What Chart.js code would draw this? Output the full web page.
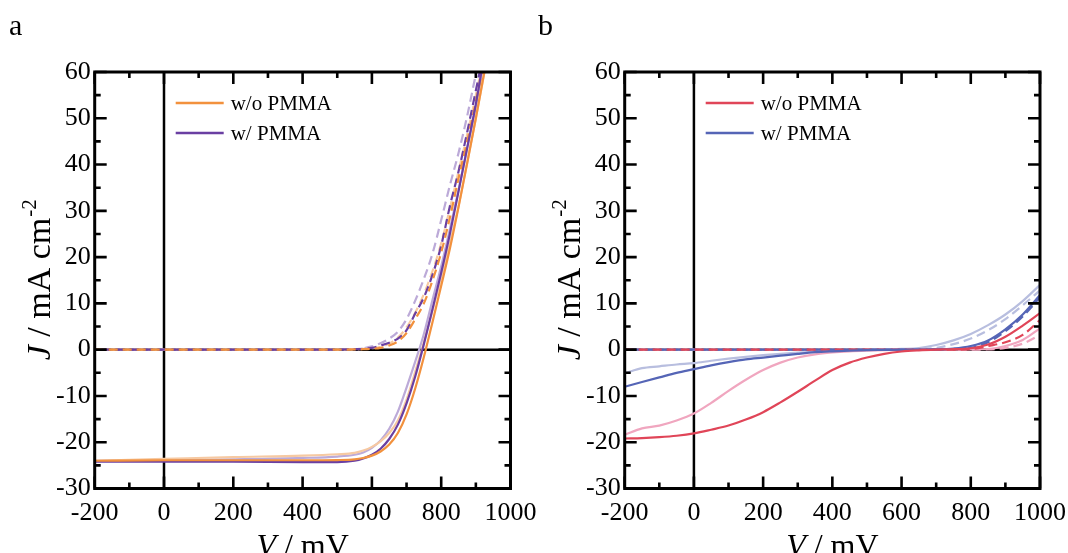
<!DOCTYPE html>
<html>
<head>
<meta charset="utf-8">
<script src="https://cdn.jsdelivr.net/npm/chart.js@4.4.0/dist/chart.umd.min.js"></script>
<style>
  html, body { margin: 0; padding: 0; background: #fff; }
  #wrap { position: relative; width: 1068px; height: 553px; overflow: hidden; }
  canvas { position: absolute; top: 0; }
</style>
</head>
<body>
<div id="wrap">
  <canvas id="chartA" width="564" height="553" style="left:0"></canvas>
  <canvas id="chartB" width="534" height="553" style="left:534px"></canvas>
</div>
<script>
// axis ticks
var xTicks = [-200, 0, 200, 400, 600, 800, 1000];
var yTicks = [-30, -20, -10, 0, 10, 20, 30, 40, 50, 60];
var legendLabels = ['w/o PMMA', 'w/ PMMA'];

// panel a : solid = illuminated, dashed = dark
var voltsA = [-200, 0, 200, 400, 500, 550, 575, 600, 625, 650, 675, 700, 725, 750, 775, 800, 825, 850, 875, 900, 925, 950];
var solidOrange     = [-24.0, -23.9, -23.9, -23.9, -23.85, -23.7, -23.4, -22.9, -22.0, -20.5, -18.0, -14.0, -8.4, -1.6, 6.0, 13.8, 21.8, 30.8, 40.3, 50.0, 60.2, 71.0];
var solidOrangePale = [-24.0, -23.6, -23.2, -22.9, -22.6, -22.3, -21.8, -21.0, -19.8, -18.0, -15.3, -10.8, -4.8, 1.6, 8.5, 15.5, 23.0, 31.0, 40.5, 50.0, 60.0, 70.0];
var solidPurple     = [-24.2, -24.2, -24.2, -24.3, -24.3, -24.0, -23.5, -22.7, -21.4, -19.3, -16.2, -11.6, -5.8, 1.2, 8.8, 16.6, 25.0, 34.2, 43.6, 53.1, 64.0, 75.0];
var solidPurplePale = [-24.0, -23.9, -23.7, -23.4, -23.1, -22.7, -22.2, -21.2, -19.6, -17.1, -13.4, -8.2, -2.6, 3.4, 10.8, 18.0, 26.0, 34.5, 43.5, 52.5, 63.0, 73.0];
var dashOrange      = [0, 0, 0, 0, 0.02, 0.05, 0.1, 0.2, 0.4, 0.9, 1.8, 3.6, 6.6, 10.0, 15.0, 21.0, 28.5, 37.0, 45.0, 53.5, 62.5, 72.0];
var dashOrangePale  = [0, 0, 0, 0, 0.02, 0.05, 0.15, 0.3, 0.6, 1.3, 2.6, 4.8, 8.0, 12.0, 17.0, 23.0, 30.5, 38.5, 46.5, 55.0, 64.0, 73.5];
var dashPurple      = [0, 0, 0, 0, 0.03, 0.1, 0.2, 0.4, 0.9, 1.5, 2.4, 4.2, 7.8, 11.3, 16.2, 22.5, 31.0, 38.5, 47.0, 56.0, 65.0, 74.0];
var dashPurplePale  = [0, 0, 0, 0, 0.03, 0.1, 0.3, 0.7, 1.4, 2.4, 3.9, 6.6, 10.6, 15.3, 20.8, 28.0, 35.5, 42.5, 50.5, 59.5, 68.0, 77.0];

// panel b
var voltsB = [-200, -150, -100, -50, 0, 50, 100, 150, 200, 250, 300, 350, 400, 450, 500, 550, 600, 650, 700, 750, 800, 850, 900, 950, 1000];
var solidRed      = [-19.2, -19.1, -18.9, -18.6, -18.1, -17.3, -16.4, -15.1, -13.5, -11.4, -9.1, -6.7, -4.4, -2.8, -1.7, -0.9, -0.4, -0.15, 0, 0.1, 0.3, 1.1, 2.8, 5.2, 7.9];
var solidRedPale  = [-18.4, -17.0, -16.4, -15.3, -13.8, -11.5, -8.9, -6.5, -4.4, -2.8, -1.7, -1.0, -0.6, -0.35, -0.2, -0.1, -0.05, 0, 0, 0, 0.05, 0.15, 0.8, 2.1, 4.6];
var solidBlue     = [-8.0, -7.0, -6.0, -5.0, -4.2, -3.4, -2.7, -2.1, -1.7, -1.3, -0.9, -0.55, -0.35, -0.2, -0.1, -0.05, 0, 0, 0.05, 0.25, 0.8, 2.0, 4.4, 7.6, 11.8];
var solidBluePale = [-5.1, -4.0, -3.6, -3.2, -2.9, -2.4, -1.95, -1.55, -1.2, -0.9, -0.65, -0.45, -0.3, -0.15, -0.05, 0.05, 0.15, 0.35, 1.0, 2.0, 3.4, 5.3, 7.6, 10.5, 14.0];
var dashRed       = [0, 0, 0, 0, 0, 0, 0, 0, 0, 0, 0, 0, 0, 0, 0, 0, 0, 0, 0, 0.02, 0.1, 0.8, 1.6, 3.2, 6.4];
var dashRedPale   = [0, 0, 0, 0, 0, 0, 0, 0, 0, 0, 0, 0, 0, 0, 0, 0, 0, 0, 0, 0, 0, 0.05, 0.4, 1.3, 3.2];
var dashBlue      = [0, 0, 0, 0, 0, 0, 0, 0, 0, 0, 0, 0, 0, 0, 0, 0, 0, 0, 0.05, 0.15, 0.4, 1.6, 4.0, 7.2, 11.3];
var dashBluePale  = [0, 0, 0, 0, 0, 0, 0, 0, 0, 0, 0, 0, 0, 0, 0, 0, 0, 0.1, 0.4, 1.2, 2.4, 4.2, 6.6, 9.6, 12.8];

var serif = "'Liberation Serif', 'Times New Roman', serif";

function pts(xs, ys) {
  return xs.map(function (v, i) { return {x: v, y: ys[i]}; });
}

// dashOff < 0 means solid line
function series(xs, ys, color, dashOff) {
  return {
    data: pts(xs, ys),
    borderColor: color,
    borderWidth: 2.2,
    borderDash: dashOff >= 0 ? [9, 5] : [],
    borderDashOffset: dashOff >= 0 ? dashOff : 0,
    pointRadius: 0,
    fill: false,
    cubicInterpolationMode: 'monotone'
  };
}

var framePlugin = {
  id: 'frame',
  beforeDatasetsDraw: function (chart) {
    var a = chart.chartArea, ctx = chart.ctx;
    var x0 = chart.scales.x.getPixelForValue(0);
    var y0 = chart.scales.y.getPixelForValue(0);
    ctx.save();
    ctx.strokeStyle = '#000';
    ctx.lineWidth = 2.5;
    ctx.beginPath();
    ctx.moveTo(x0, a.top); ctx.lineTo(x0, a.bottom);
    ctx.moveTo(a.left, y0); ctx.lineTo(a.right, y0);
    ctx.stroke();
    ctx.restore();
  },
  afterDatasetsDraw: function (chart) {
    var a = chart.chartArea, ctx = chart.ctx;
    var sx = chart.scales.x, sy = chart.scales.y;
    var v, p, len;
    ctx.save();
    ctx.strokeStyle = '#000';
    ctx.lineWidth = 2.6;
    ctx.beginPath();
    for (v = -200; v <= 1000; v += 100) {
      p = sx.getPixelForValue(v);
      len = (v % 200 === 0) ? 12 : 6;
      ctx.moveTo(p, a.bottom); ctx.lineTo(p, a.bottom - len);
      ctx.moveTo(p, a.top); ctx.lineTo(p, a.top + len);
    }
    for (v = -30; v <= 60; v += 5) {
      p = sy.getPixelForValue(v);
      len = (v % 10 === 0) ? 12 : 6;
      ctx.moveTo(a.left, p); ctx.lineTo(a.left + len, p);
      ctx.moveTo(a.right, p); ctx.lineTo(a.right - len, p);
    }
    ctx.stroke();
    ctx.lineWidth = 3;
    ctx.strokeRect(a.left, a.top, a.right - a.left, a.bottom - a.top);
    ctx.restore();
  },
  afterDraw: function (chart, args, opts) {
    var a = chart.chartArea, ctx = chart.ctx;
    ctx.save();
    ctx.fillStyle = '#000';
    // panel letter
    ctx.font = '30px ' + serif;
    ctx.textBaseline = 'alphabetic';
    ctx.textAlign = 'left';
    ctx.fillText(opts.letter, opts.letterX, 35);

    // legend
    ctx.font = '21px ' + serif;
    ctx.textBaseline = 'middle';
    legendLabels.forEach(function (lab, i) {
      var yy = 103 + i * 30;
      ctx.strokeStyle = chart.data.datasets[i].borderColor;
      ctx.lineWidth = 2.6;
      ctx.beginPath();
      ctx.moveTo(a.left + 81, yy); ctx.lineTo(a.left + 129, yy);
      ctx.stroke();
      ctx.fillText(lab, a.left + 136, yy + 1);
    });

    // x title
    ctx.textBaseline = 'alphabetic';
    var cx = (a.left + a.right) / 2;
    var f1 = 'italic 32px ' + serif, f2 = '32px ' + serif;
    ctx.font = f1; var wV = ctx.measureText('V').width;
    ctx.font = f2; var wR = ctx.measureText(' / mV').width;
    var sx0 = cx - (wV + wR) / 2;
    ctx.font = f1; ctx.fillText('V', sx0, 556);
    ctx.font = f2; ctx.fillText(' / mV', sx0 + wV, 556);

    // y title (rotated)
    var g1 = 'italic 34px ' + serif, g2 = '34px ' + serif, g3 = '21px ' + serif;
    ctx.translate(a.left - 45, (a.top + a.bottom) / 2);
    ctx.rotate(-Math.PI / 2);
    ctx.font = g1; var wJ = ctx.measureText('J').width;
    ctx.font = g2; var wM = ctx.measureText(' / mA cm').width;
    ctx.font = g3; var wS = ctx.measureText('-2').width;
    var start = -(wJ + wM + wS) / 2;
    ctx.font = g1; ctx.fillText('J', start, 0);
    ctx.font = g2; ctx.fillText(' / mA cm', start + wJ, 0);
    ctx.font = g3; ctx.fillText('-2', start + wJ + wM + 1, -14);
    ctx.restore();
  }
};

function makeChart(id, datasets, yWidth, padRight, letter, letterX) {
  var ctx = document.getElementById(id).getContext('2d');
  return new Chart(ctx, {
    type: 'line',
    data: {datasets: datasets},
    plugins: [framePlugin],
    options: {
      responsive: false,
      animation: false,
      layout: {padding: {top: 72, right: padRight, bottom: 0, left: 0}},
      plugins: {
        legend: {display: false},
        tooltip: {enabled: false},
        frame: {letter: letter, letterX: letterX}
      },
      scales: {
        x: {
          type: 'linear', min: -200, max: 1000,
          afterBuildTicks: function (s) { s.ticks = xTicks.map(function (v) { return {value: v}; }); },
          afterFit: function (s) { s.height = 64.5; s.paddingLeft = 0; s.paddingRight = 0; },
          grid: {display: false, drawTicks: false},
          border: {display: false},
          ticks: {color: '#000', padding: 9, maxRotation: 0, font: {family: serif, size: 26},
                  callback: function (v) { return String(v); }}
        },
        y: {
          type: 'linear', min: -30, max: 60,
          afterBuildTicks: function (s) { s.ticks = yTicks.map(function (v) { return {value: v}; }); },
          afterFit: function (s) { s.width = yWidth; s.paddingTop = 0; s.paddingBottom = 0; },
          grid: {display: false, drawTicks: false},
          border: {display: false},
          ticks: {color: '#000', padding: 4, font: {family: serif, size: 26},
                  callback: function (v) { return String(v); }}
        }
      }
    }
  });
}

var orange = '#F2913D', orangePale = '#F6C9A2', purple = '#6A3FA2', purplePale = '#BCAAD8';
var red = '#E04558', redPale = '#F0A6BF', blue = '#5565B6', bluePale = '#B8BEDF';

makeChart('chartA', [
  series(voltsA, solidOrange, orange, -1),
  series(voltsA, solidPurple, purple, -1),
  series(voltsA, dashOrange, orange, 0),
  series(voltsA, dashPurple, purple, 7),
  series(voltsA, solidOrangePale, orangePale, -1),
  series(voltsA, solidPurplePale, purplePale, -1),
  series(voltsA, dashOrangePale, orangePale, 3),
  series(voltsA, dashPurplePale, purplePale, 10)
], 94.7, 53.5, 'a', 9);

makeChart('chartB', [
  series(voltsB, solidRed, red, -1),
  series(voltsB, solidBlue, blue, -1),
  series(voltsB, dashRed, red, 0),
  series(voltsB, dashBlue, blue, 7),
  series(voltsB, solidRedPale, redPale, -1),
  series(voltsB, solidBluePale, bluePale, -1),
  series(voltsB, dashRedPale, redPale, 3),
  series(voltsB, dashBluePale, bluePale, 10)
], 90.7, 28, 'b', 4);
</script>
</body>
</html>
